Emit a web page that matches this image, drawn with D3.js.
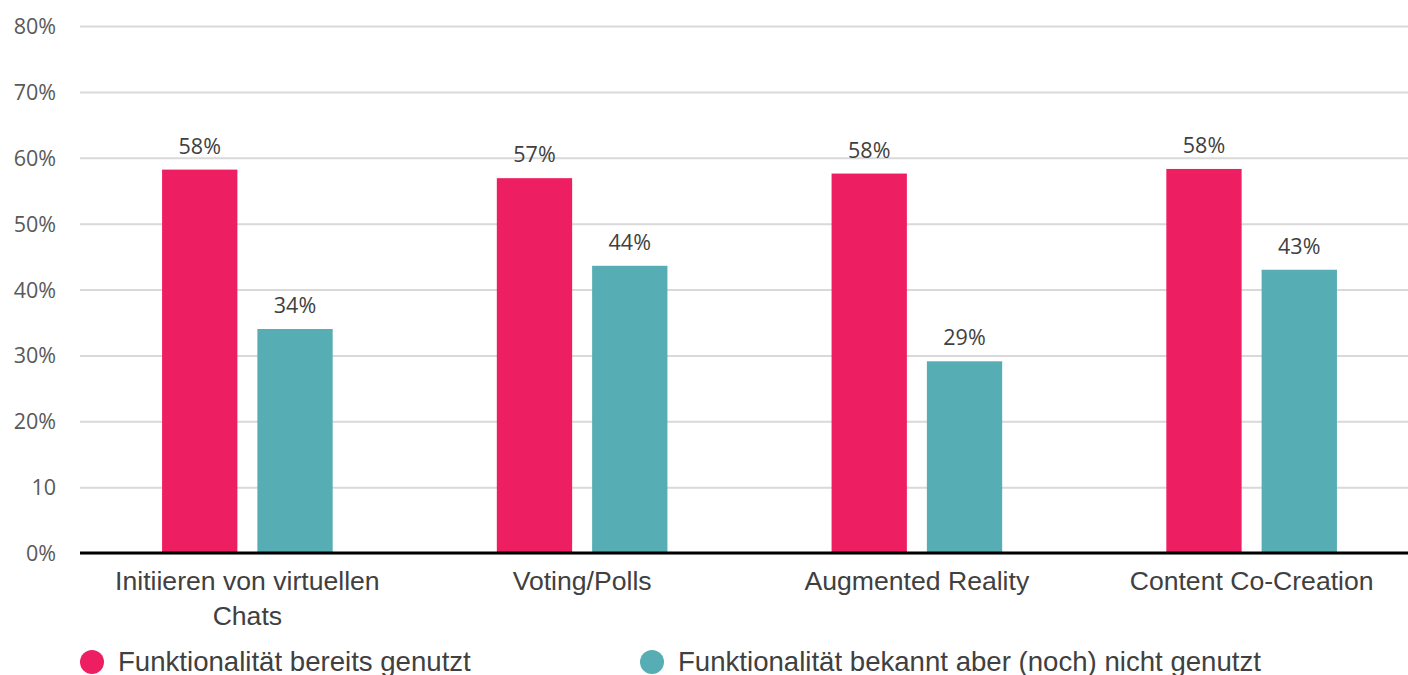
<!DOCTYPE html>
<html>
<head>
<meta charset="utf-8">
<script src="https://cdn.jsdelivr.net/npm/d3@7"></script>
<style>
  html, body { margin: 0; padding: 0; background: #fff; }
  svg { display: block; }
</style>
</head>
<body>
<svg id="chart" width="1408" height="675"></svg>
<script>
// Categories and series values (percent)
const categories = [["Initiieren von virtuellen", "Chats"], ["Voting/Polls"], ["Augmented Reality"], ["Content Co-Creation"]];
const seriesNames = ["Funktionalität bereits genutzt", "Funktionalität bekannt aber (noch) nicht genutzt"];
const usedValues = [58.2, 56.9, 57.6, 58.3];
const knownValues = [34.0, 43.6, 29.1, 43.0];
const tickValues = [0, 10, 20, 30, 40, 50, 60, 70, 80];
const tickLabels = ["0%", "10", "20%", "30%", "40%", "50%", "60%", "70%", "80%"];

const colors = ["#ED1F62", "#56ADB3"];
const svg = d3.select("#chart");

const margin = { left: 80, right: -11, top: 26, bottom: 122 };
const W = 1408, H = 675;

const x = d3.scaleBand()
  .domain(d3.range(categories.length))
  .range([margin.left, W - margin.right])
  .paddingInner(0).paddingOuter(0);

const y = d3.scaleLinear().domain([0, 80]).range([H - margin.bottom, margin.top]);

const barW = 75.3, barGap = 20;
const inner = d3.scaleOrdinal().domain([0, 1]).range([-barGap / 2 - barW, barGap / 2]);

// Gridlines and value axis labels
const yAxis = d3.axisLeft(y).tickValues(tickValues).tickSize(-(W - margin.left)).tickFormat((d, i) => tickLabels[i]);
const gy = svg.append("g").attr("transform", `translate(${margin.left},0)`).call(yAxis);
gy.select(".domain").remove();
gy.selectAll(".tick line").attr("stroke", "#d9d9d9").attr("stroke-width", 2);
gy.selectAll(".tick text")
  .attr("x", -24).attr("dy", "0.35em")
  .attr("fill", "#595959")
  .style("font-family", "'Open Sans', sans-serif")
  .style("font-size", "21.5px");

// Bars
const rows = categories.map((c, i) => ({ i, vals: [usedValues[i], knownValues[i]] }));
const groups = svg.selectAll("g.grp").data(rows).join("g")
  .attr("class", "grp")
  .attr("transform", d => `translate(${x(d.i) + x.bandwidth() / 2},0)`);

groups.selectAll("rect").data(d => d.vals.map((v, s) => ({ v, s }))).join("rect")
  .attr("x", d => inner(d.s))
  .attr("width", barW)
  .attr("y", d => y(d.v))
  .attr("height", d => y(0) - y(d.v))
  .attr("fill", d => colors[d.s]);

groups.selectAll("text.val").data(d => d.vals.map((v, s) => ({ v, s }))).join("text")
  .attr("class", "val")
  .attr("x", d => inner(d.s) + barW / 2)
  .attr("y", d => y(d.v) - 16)
  .attr("text-anchor", "middle")
  .attr("fill", "#404040")
  .style("font-family", "'Open Sans', sans-serif")
  .style("font-size", "21.5px")
  .text(d => Math.round(d.v) + "%");

// Baseline axis
svg.append("line")
  .attr("x1", margin.left).attr("x2", W)
  .attr("y1", y(0)).attr("y2", y(0))
  .attr("stroke", "#000").attr("stroke-width", 3);

// Category labels
const xl = svg.append("g").selectAll("text").data(categories).join("text")
  .attr("x", (d, i) => x(i) + x.bandwidth() / 2)
  .attr("y", 590)
  .attr("text-anchor", "middle")
  .attr("fill", "#404040")
  .style("font-family", "'Liberation Sans', Arial, sans-serif")
  .style("font-size", "26.6px");
xl.selectAll("tspan").data(d => d).join("tspan")
  .attr("x", function () { return d3.select(this.parentNode).attr("x"); })
  .attr("dy", (d, j) => j === 0 ? 0 : 35)
  .text(d => d);

// Legend
const legendX = [92, 652];
const lg = svg.append("g").selectAll("g").data(seriesNames).join("g")
  .attr("transform", (d, i) => `translate(${legendX[i]},662)`);
lg.append("circle").attr("r", 12).attr("fill", (d, i) => colors[i]);
lg.append("text")
  .attr("x", 26).attr("y", 9)
  .attr("fill", "#404040")
  .style("font-family", "'Liberation Sans', Arial, sans-serif")
  .style("font-size", "27.6px")
  .text(d => d);
</script>
</body>
</html>
